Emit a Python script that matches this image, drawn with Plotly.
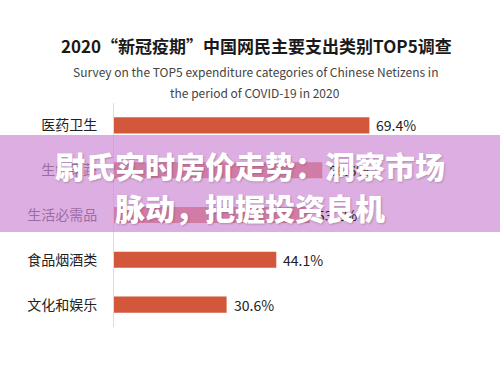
import plotly.graph_objects as go

categories = ["医药卫生", "生鲜果蔬", "生活必需品", "食品烟酒类", "文化和娱乐"]
values = [69.4, 56.6, 53.2, 44.1, 30.6]
value_labels = ["69.4%", "56.6%", "53.2%", "44.1%", "30.6%"]

title_text = "2020“新冠疫期”中国网民主要支出类别TOP5调查"
subtitle_lines = ["Survey on the TOP5 expenditure categories of Chinese Netizens in",
                  "the period of COVID-19 in 2020"]
banner_lines = ["尉氏实时房价走势：洞察市场", "脉动，把握投资良机"]

W, H = 500, 369
L, R, T, B = 114, 18, 103, 42

fig = go.Figure()
fig.add_trace(go.Bar(
    y=categories, x=values, orientation="h",
    marker=dict(color="#d2573b", line=dict(width=0)),
    width=0.36, hoverinfo="skip",
))

for c, v, t in zip(categories, values, value_labels):
    fig.add_annotation(x=v, y=c, xref="x", yref="y", text=t, showarrow=False,
                       xanchor="left", xshift=5,
                       font=dict(family="Noto Sans CJK SC", size=14, color="#222"))

def py(px):
    return 1 - (px - T) / (H - T - B)

def pxx(px):
    return (px - L) / (W - L - R)

fig.add_annotation(x=pxx(256), y=py(45), xref="paper", yref="paper", text="<b>" + title_text + "</b>",
                   showarrow=False, xanchor="center", yanchor="middle",
                   font=dict(family="Noto Sans CJK SC", size=17, color="#1a1a1a"))
for i, s in enumerate(subtitle_lines):
    fig.add_annotation(x=pxx(255), y=py(71 + 21 * i), xref="paper", yref="paper", text=s,
                       showarrow=False, xanchor="center", yanchor="middle",
                       font=dict(family="Noto Sans CJK SC", size=12, color="#444"))

# banner overlay
fig.add_shape(type="rect", xref="paper", yref="paper", x0=pxx(0), x1=pxx(W), y0=py(232), y1=py(135),
              fillcolor="rgba(206,140,212,0.7)", line=dict(width=0), layer="above")
for i, s in enumerate(banner_lines):
    fig.add_annotation(x=pxx(250), y=py(165 + 41.5 * i), xref="paper", yref="paper", text=s,
                       showarrow=False, xanchor="center", yanchor="middle",
                       font=dict(family="Noto Sans CJK SC", size=30, color="white", weight=900,
                                 shadow="1px 1px 2px rgba(0,0,0,0.2)"))

fig.update_layout(
    width=W, height=H, margin=dict(l=L, r=R, t=T, b=B),
    paper_bgcolor="white", plot_bgcolor="white", showlegend=False,
    xaxis=dict(range=[0, 100], visible=False, fixedrange=True),
    yaxis=dict(autorange="reversed", showline=True, linecolor="#dddddd", linewidth=1,
               showgrid=False, zeroline=False, ticks="", ticklabelstandoff=13, fixedrange=True,
               tickfont=dict(family="Noto Sans CJK SC", size=14, color="#222")),
    bargap=0.64,
)
fig.write_html("out.html", config={"displayModeBar": False},
               post_script="document.body.style.margin='0';")
